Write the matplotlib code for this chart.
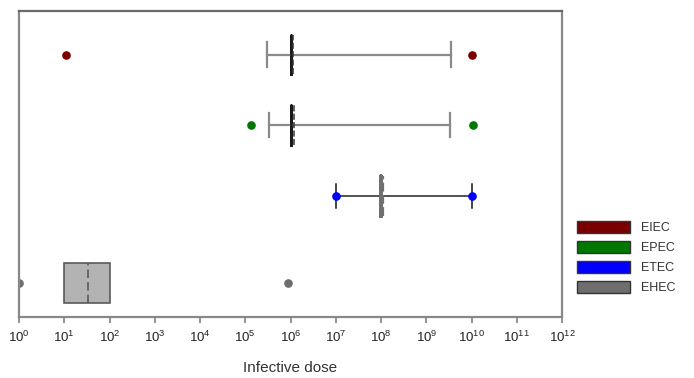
import matplotlib
matplotlib.use("Agg")
import matplotlib.pyplot as plt
from matplotlib.patches import Patch

plt.rcParams['font.family'] = ['Liberation Sans', 'DejaVu Sans']
plt.rcParams['mathtext.fontset'] = 'custom'
plt.rcParams['mathtext.rm'] = 'Liberation Sans'
plt.rcParams['mathtext.it'] = 'Liberation Sans'

# ---- data (infective dose, cells) ----
groups = ["EIEC", "EPEC", "ETEC", "EHEC"]
colors = ["#7a0000", "#007800", "#0000ff", "#6e6e6e"]
rows = [4.0, 3.0, 2.0, 0.77]          # vertical placement of each group
q1 = [1.0e6, 1.05e6, 1.0e8, 10.0]
med = [1.0e6, 1.05e6, 1.0e8, 10.0]
mean = [1.13e6, 1.18e6, 1.08e8, 33.0]
q3 = [1.0e6, 1.05e6, 1.0e8, 105.0]
whislo = [3.0e5, 3.3e5, 1.0e7, 10.0]
whishi = [3.6e9, 3.3e9, 1.0e10, 105.0]
fliers = [[11.0, 1.0e10], [1.35e5, 1.1e10], [1.0e7, 1.0e10], [1.0, 9.0e5]]
decades = list(range(0, 13))
xlabel = "Infective dose"

fig = plt.figure(figsize=(6.94, 3.78), dpi=100)
ax = fig.add_axes([19/694, 1-317/378, (562-19)/694, (317-11)/378])

for i, g in enumerate(groups):
    st = dict(q1=q1[i], med=med[i], q3=q3[i], mean=mean[i],
              whislo=whislo[i], whishi=whishi[i], fliers=fliers[i], label=g)
    if g in ("EIEC", "EPEC"):
        boxprops = dict(color="#1a1a1a", linewidth=1.8)
        whisk = dict(color="#8a8a8a", linewidth=1.6)
        capp = dict(color="#8a8a8a", linewidth=1.6)
        medp = dict(color="#1a1a1a", linewidth=1.8)
        meanp = dict(color="#333333", linewidth=1.1, linestyle=(0, (4, 1.5)))
        showcaps = True
        fill = False
    elif g == "ETEC":
        boxprops = dict(color="#707070", linewidth=2.6)
        whisk = dict(color="#444444", linewidth=1.3)
        capp = dict(color="#111111", linewidth=1.1)
        medp = dict(color="#707070", linewidth=2.6)
        meanp = dict(color="#707070", linewidth=1.6, linestyle=(0, (4, 1.5)))
        showcaps = True
        fill = False
    else:
        boxprops = dict(edgecolor="#5a5a5a", facecolor="#b3b3b3", linewidth=1.2)
        whisk = dict(color="#5a5a5a", linewidth=0)
        capp = dict(color="#5a5a5a", linewidth=0)
        medp = dict(color="#b3b3b3", linewidth=0)
        meanp = dict(color="#5a5a5a", linewidth=1.2, linestyle=(0, (5, 2.5)))
        showcaps = False
        fill = True
    flierprops = dict(marker="o", markersize=5.2, markerfacecolor=colors[i],
                      markeredgecolor=colors[i], linestyle="none")
    ax.bxp([st], positions=[rows[i]], vert=False, widths=0.56,
           capwidths=0.34, patch_artist=fill, showcaps=showcaps,
           showmeans=True, meanline=True, showfliers=True,
           boxprops=boxprops, whiskerprops=whisk, capprops=capp,
           medianprops=medp, meanprops=meanp, flierprops=flierprops,
           manage_ticks=False)

ax.set_xscale("log")
ax.set_xlim(10**decades[0], 10**decades[-1])
ax.set_ylim(0.29, 4.615)
ax.set_xticks([10.0**d for d in decades])
ax.set_xticklabels([r"$10^{%d}$" % d for d in decades], fontsize=9.5, color="#222222")
ax.xaxis.set_minor_locator(matplotlib.ticker.NullLocator())
ax.set_yticks([])
ax.tick_params(axis="x", direction="out", length=4, width=1.2, color="#808080", pad=5)
for sp in ax.spines.values():
    sp.set_color("#888888")
    sp.set_linewidth(1.6)
ax.spines["top"].set_color("#6a6a6a")
ax.set_xlabel(xlabel, fontsize=11, color="#333333", labelpad=12)

handles = [Patch(facecolor=c, edgecolor="#333333", linewidth=1.0) for c in colors]
fig.legend(handles, groups, loc="upper left", bbox_to_anchor=(566/694, 1-210/378),
           frameon=False, handlelength=4.2, handleheight=1.05, labelspacing=0.55,
           handletextpad=0.9, fontsize=9, labelcolor="#333333")

fig.savefig("out.png", dpi=100)
